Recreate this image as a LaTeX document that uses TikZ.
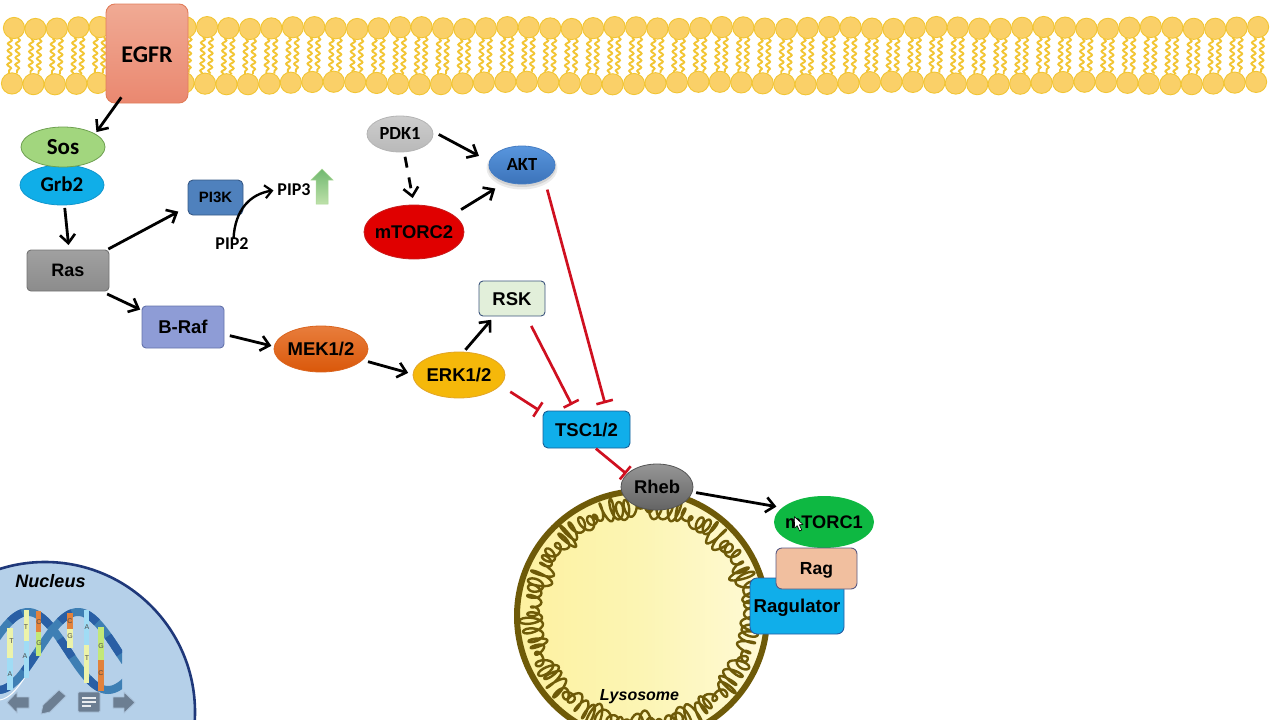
\documentclass[tikz,border=0pt]{standalone}
\usepackage{fontspec}
\setmainfont{Liberation Sans}
\newfontfamily\carl{Carlito}
\usetikzlibrary{arrows.meta,decorations.pathmorphing,shapes.geometric}
\newcommand{\narrowlabel}[1]{\makebox[0pt]{#1}}
\tikzset{
  arfont/.style={font=\bfseries\fontsize{#1}{#1}\selectfont,text height=#1*0.72pt,text depth=0pt},
  cafont/.style={font=\carl\bfseries\fontsize{#1}{#1}\selectfont,text height=#1*0.64pt,text depth=0pt},
  box/.style={rectangle,rounded corners=#1,inner sep=0pt,outer sep=0pt,line width=0.9pt},
  oval/.style={ellipse,inner sep=0pt,outer sep=0pt,line width=0.8pt},
  go/.style={line width=2.8pt,black,-{Straight Barb[length=8.5pt,width=15pt,line width=2.6pt]}},
  dashgo/.style={go,dash pattern=on 11pt off 10pt},
  stopline/.style={line width=2.7pt,draw=inhibit,-{Bar[width=17pt,line width=2.6pt]}},
  tail/.style={draw=lipidline,line width=1.9pt,decorate,decoration={snake,amplitude=2pt,segment length=7pt}},
  head/.style={draw=lipidline,fill=lipidfill,line width=0.9pt},
  helix/.style={line width=8pt,draw=helixblue},
  basepair/.style={line width=5.5pt},
  baseletter/.style={font=\fontsize{7}{7}\selectfont,text=black!70,inner sep=0pt},
  navicon/.style={fill=navgray,draw=navedge,line width=0.8pt,line join=round},
}
\definecolor{inhibit}{HTML}{CF1020}
\definecolor{lipidline}{HTML}{F2C534}
\definecolor{lipidfill}{HTML}{FAD068}
\definecolor{helixblue}{HTML}{3E7FB4}
\definecolor{helixdark}{HTML}{2A5FA5}
\definecolor{navgray}{HTML}{6C7E92}
\definecolor{navedge}{HTML}{A9C0D8}
\definecolor{lysoedge}{HTML}{6E5A08}
\begin{document}
\begin{tikzpicture}[x=1pt,y=-1pt]
\useasboundingbox (0,0) rectangle (1280,720);
\begin{scope}
\clip (0,0) rectangle (1280,720);

% phospholipid bilayer
\foreach \i in {0,...,58}{
  \pgfmathsetmacro{\xa}{14+21.45*\i}
  \pgfmathsetmacro{\xb}{12+21.45*\i}
  \pgfmathsetmacro{\wa}{1.0*sin(\i*73)}
  \pgfmathsetmacro{\wb}{1.3*sin(\i*41+20)}
  \draw[tail] (\xa-4,{38+\wa}) -- (\xb-3,{73+\wb});
  \draw[tail] (\xa+4,{38+\wa}) -- (\xb+5,{73+\wb});
  \draw[head] (\xa,{28+\wa}) circle (10.6);
  \draw[head] (\xb,{83+\wb}) circle (10.6);
}

% nucleus with its DNA strands
\draw[fill={rgb,255:red,181;green,208;blue,233},draw={rgb,255:red,31;green,56;blue,122},line width=2.6pt]
  (45,712) circle (150);
\begin{scope}
  \clip (-1,600) rectangle (122,700);
  \draw[helix] plot[domain=-5:125,samples=70,smooth] (\x,{651-39*cos((\x-28)*2.25)});
  \foreach \xs in {10,38,60,88}{
    \draw[helix,draw=helixdark] plot[domain=\xs:\xs+12,samples=8,smooth] (\x,{651-39*cos((\x-28)*2.25)});
  }
  \draw[white,line width=1pt] plot[domain=-5:60,samples=40,smooth] (\x,{655-45*cos((\x-78)*2.25)});
  \draw[helix] plot[domain=-5:125,samples=70,smooth] (\x,{651-39*cos((\x-78)*2.25)});
  \foreach \xs in {-2,24,60,85,108}{
    \draw[helix,draw=helixdark] plot[domain=\xs:\xs+12,samples=8,smooth] (\x,{651-39*cos((\x-78)*2.25)});
  }
\end{scope}
\draw[basepair,draw={rgb,255:red,236;green,243;blue,170}] (10,628) -- (10,658);
\draw[basepair,draw={rgb,255:red,160;green,220;blue,245}] (10,658) -- (10,690);
\draw[basepair,draw={rgb,255:red,236;green,243;blue,170}] (26.7,610) -- (26.7,641);
\draw[basepair,draw={rgb,255:red,160;green,220;blue,245}] (26.7,641) -- (26.7,678);
\draw[basepair,draw={rgb,255:red,226;green,130;blue,60}] (38.7,611) -- (38.7,632);
\draw[basepair,draw={rgb,255:red,195;green,232;blue,120}] (38.7,632) -- (38.7,656);
\draw[basepair,draw={rgb,255:red,226;green,130;blue,60}] (70,613) -- (70,629);
\draw[basepair,draw={rgb,255:red,236;green,243;blue,170}] (70,629) -- (70,648);
\draw[basepair,draw={rgb,255:red,160;green,220;blue,245}] (86.7,610) -- (86.7,645);
\draw[basepair,draw={rgb,255:red,236;green,243;blue,170}] (86.7,645) -- (86.7,683);
\draw[basepair,draw={rgb,255:red,195;green,232;blue,120}] (101,627) -- (101,660);
\draw[basepair,draw={rgb,255:red,226;green,130;blue,60}] (101,660) -- (101,691);
\node[baseletter] (bt1) at (11.5,641) {T};
\node[baseletter] (ba1) at (10,674) {A};
\node[baseletter] (bt2) at (26,627) {T};
\node[baseletter] (ba2) at (25,656) {A};
\node[baseletter] (bc1) at (39,622) {C};
\node[baseletter] (bg1) at (39,643) {G};
\node[baseletter] (bc2) at (70,621) {C};
\node[baseletter] (bg2) at (70,636) {G};
\node[baseletter] (ba3) at (87,627) {A};
\node[baseletter] (bt3) at (87,658) {T};
\node[baseletter] (bg3) at (101,646) {G};
\node[baseletter] (bc3) at (101,673) {C};
\node[font=\bfseries\itshape\fontsize{18}{18}\selectfont,inner sep=0pt] (nucleus) at (50.5,581.5) {Nucleus};

% slide navigation buttons
\draw[navicon] (7,702.5) -- (17,692) -- (17,697) -- (29,697) -- (29,708) -- (17,708) -- (17,713) -- cycle;
\draw[navicon] (41,714) -- (43,705) -- (59,690) -- (66,696) -- (50,712) -- cycle;
\draw[navicon,rounded corners=1pt] (78,692) rectangle (100,712);
\draw[white!85!navgray,line width=1.3pt] (82,698) -- (96,698) (82,702) -- (96,702) (82,706) -- (91,706);
\draw[navicon] (135,702.5) -- (124,692) -- (124,697) -- (113,697) -- (113,708) -- (124,708) -- (124,713) -- cycle;

% lysosome: membrane ring with a folded inner lining, drawn sector by sector
\draw[draw=lysoedge,line width=6pt,left color={rgb,255:red,253;green,241;blue,160},right color={rgb,255:red,255;green,250;blue,214},middle color={rgb,255:red,252;green,245;blue,180}]
  (642,616) circle (125);
\foreach \sa in {0,30,...,330}{
  \pgfmathsetmacro{\sb}{\sa+30}
  \draw[draw=lysoedge,line width=2.4pt,line join=round,line cap=round]
    plot[domain=\sa:\sb,samples=120,smooth]
    ({642+(109+2*sin(19*\x)+(8+3*sin(13*\x)+2*sin(29*\x))*sin(84*(\x-\sa)))*cos(\x+0.8*sin(23*\x)+(1.9+0.7*sin(17*\x))*cos(84*(\x-\sa)))},
     {616+(109+2*sin(19*\x)+(8+3*sin(13*\x)+2*sin(29*\x))*sin(84*(\x-\sa)))*sin(\x+0.8*sin(23*\x)+(1.9+0.7*sin(17*\x))*cos(84*(\x-\sa)))});
}
\node[font=\bfseries\itshape\fontsize{16}{16}\selectfont,inner sep=0pt] (lysosome) at (639.5,697) {Lysosome};

% membrane receptor
\node[box=9pt,minimum width=82pt,minimum height=99pt,draw={rgb,255:red,225;green,125;blue,90},top color={rgb,255:red,240;green,170;blue,148},bottom color={rgb,255:red,234;green,136;blue,112},cafont=24] (egfr) at (147,53.5) {\raisebox{-1.5pt}{EGFR}};

% adaptor proteins
\node[oval,minimum width=84pt,minimum height=40pt,fill={rgb,255:red,16;green,174;blue,232},draw={rgb,255:red,16;green,150;blue,205},cafont=21] (grb) at (62,185) {Grb2};
\node[oval,minimum width=84pt,minimum height=40pt,fill={rgb,255:red,162;green,214;blue,126},draw={rgb,255:red,110;green,160;blue,80},cafont=23] (sos) at (63,147) {Sos};

\node[box=4pt,minimum width=82pt,minimum height=41pt,top color={rgb,255:red,160;green,160;blue,160},bottom color={rgb,255:red,140;green,140;blue,140},draw={rgb,255:red,115;green,115;blue,115},arfont=18] (ras) at (68,270.5) {Ras};
\node[box=5pt,minimum width=55pt,minimum height=35pt,fill={rgb,255:red,79;green,129;blue,189},draw={rgb,255:red,55;green,90;blue,135},arfont=15] (pik) at (215.5,197.5) {PI3K};
\node[cafont=18,inner sep=0pt,outer sep=0pt] (pipb) at (232,244) {PIP2};
\node[cafont=18,inner sep=0pt,outer sep=1pt] (pipc) at (294,190) {PIP3};
\path[top color={rgb,255:red,112;green,184;blue,112},bottom color={rgb,255:red,190;green,225;blue,170},draw={rgb,255:red,170;green,215;blue,150},line width=0.5pt]
  (322,169) -- (333,180) -- (328,180) -- (328,204) -- (316,204) -- (316,180) -- (311,180) -- cycle;

\node[box=4pt,minimum width=82pt,minimum height=42pt,fill={rgb,255:red,142;green,156;blue,214},draw={rgb,255:red,100;green,115;blue,170},arfont=18.5] (raf) at (183,327) {B-Raf};
\node[oval,minimum width=94pt,minimum height=46pt,top color={rgb,255:red,232;green,125;blue,60},bottom color={rgb,255:red,218;green,88;blue,10},draw={rgb,255:red,218;green,100;blue,30},arfont=18.5] (mek) at (321,349) {\narrowlabel{MEK1/2}};
\node[oval,minimum width=92pt,minimum height=46pt,fill={rgb,255:red,245;green,184;blue,10},draw={rgb,255:red,225;green,165;blue,40},arfont=18.5] (erk) at (459,375) {\narrowlabel{ERK1/2}};
\node[box=4pt,minimum width=66pt,minimum height=35pt,fill={rgb,255:red,226;green,239;blue,218},draw={rgb,255:red,60;green,85;blue,125},arfont=18.5] (rsk) at (512,298.5) {RSK};

\node[oval,minimum width=66pt,minimum height=36pt,top color={rgb,255:red,205;green,205;blue,205},bottom color={rgb,255:red,185;green,185;blue,185},draw={rgb,255:red,180;green,180;blue,180},cafont=18.5] (pdk) at (400,134) {\narrowlabel{PDK1}};
\fill[black,opacity=0.08] (522,168) ellipse (35.5 and 21.5);
\fill[black,opacity=0.10] (522,167) ellipse (34 and 20);
\node[oval,minimum width=66pt,minimum height=38pt,top color={rgb,255:red,88;green,150;blue,222},bottom color={rgb,255:red,60;green,115;blue,185},draw={rgb,255:red,70;green,125;blue,195},cafont=18.5] (akt) at (522,165) {\narrowlabel{AKT}};
\node[oval,minimum width=100pt,minimum height=54pt,fill={rgb,255:red,224;green,0;blue,0},draw={rgb,255:red,200;green,30;blue,30},arfont=18.4] (torb) at (414,232) {\narrowlabel{mTORC2}};

\node[box=5pt,minimum width=87pt,minimum height=37pt,fill={rgb,255:red,16;green,174;blue,234},draw={rgb,255:red,25;green,95;blue,150},arfont=18.5] (tsc) at (586.5,429.5) {TSC1/2};
\node[oval,minimum width=72pt,minimum height=46pt,top color={rgb,255:red,150;green,150;blue,150},bottom color={rgb,255:red,100;green,100;blue,100},draw={rgb,255:red,85;green,85;blue,85},arfont=18.4] (rheb) at (657,487) {\narrowlabel{Rheb}};
\node[oval,minimum width=100pt,minimum height=52pt,fill={rgb,255:red,14;green,184;blue,66},arfont=18.2] (tora) at (824,522) {\narrowlabel{mTORC1}};
\node[box=7pt,minimum width=94pt,minimum height=56pt,fill={rgb,255:red,16;green,174;blue,234},draw={rgb,255:red,40;green,90;blue,160},arfont=18.6] (ragu) at (797,606) {Ragulator};
\node[box=6pt,minimum width=81pt,minimum height=41pt,fill={rgb,255:red,241;green,191;blue,159},draw={rgb,255:red,90;green,90;blue,130},arfont=17.5] (rag) at (816.5,568.5) {Rag};

% activating connectors
\draw[go,shorten <=-7pt,shorten >=2.5pt] (egfr.239) -- (sos.22);
\draw[go,shorten <=3pt,shorten >=5pt] (grb.277) -- (ras.87);
\draw[go,shorten <=2pt,shorten >=11pt] (ras.28.8) -- (pik.198.7);
\draw[go,shorten <=7pt,shorten >=2pt] (ras.-32.6) -- (raf.158.7);
\draw[go,shorten <=6pt,shorten >=3pt] (raf.-10.2) -- (mek.177.7);
\draw[go,shorten <=6pt,shorten >=5pt] (mek.-15.5) -- (erk.179);
\draw[go,shorten <=3pt,shorten >=5pt] (erk.79) -- (rsk.225);
\draw[go,shorten <=7pt,shorten >=12pt] (pdk.5) -- (akt.174);
\draw[dashgo,shorten <=5pt,shorten >=7pt] (pdk.-77.5) -- (torb.90);
\draw[go,shorten <=10pt,shorten >=13pt] (torb.24) -- (akt.227.7);
\draw[go,shorten <=4pt,shorten >=6pt] (rheb.-8.7) -- (tora.161.6);
\draw[line width=2.4pt,shorten >=3pt,-{Straight Barb[length=7pt,width=13pt,line width=2.2pt]}] (pipb.75) .. controls (235,210) and (250,194) .. (pipc.west);

% inhibitory connectors
\draw[stopline,shorten <=11.2pt,shorten >=6.9pt] (rsk.-51.7) -- (tsc.122.3);
\draw[stopline,shorten <=12pt,shorten >=4.8pt] (erk.-14.2) -- (tsc.159.9);
\draw[stopline,shorten <=11pt,shorten >=8pt] (akt.-32.5) -- (tsc.42);
\draw[stopline,shorten <=1pt,shorten >=1pt] (tsc.-65.3) -- (rheb.157.2);

% mouse pointer
\draw[fill=white,draw=black,line width=0.6pt,line join=round]
  (794.3,516.7) -- (794.6,528) -- (797.2,525.6) -- (799.6,531) -- (801.7,530) -- (799.4,524.8) -- (803,524.4) -- cycle;
\end{scope}
\end{tikzpicture}
\end{document}
